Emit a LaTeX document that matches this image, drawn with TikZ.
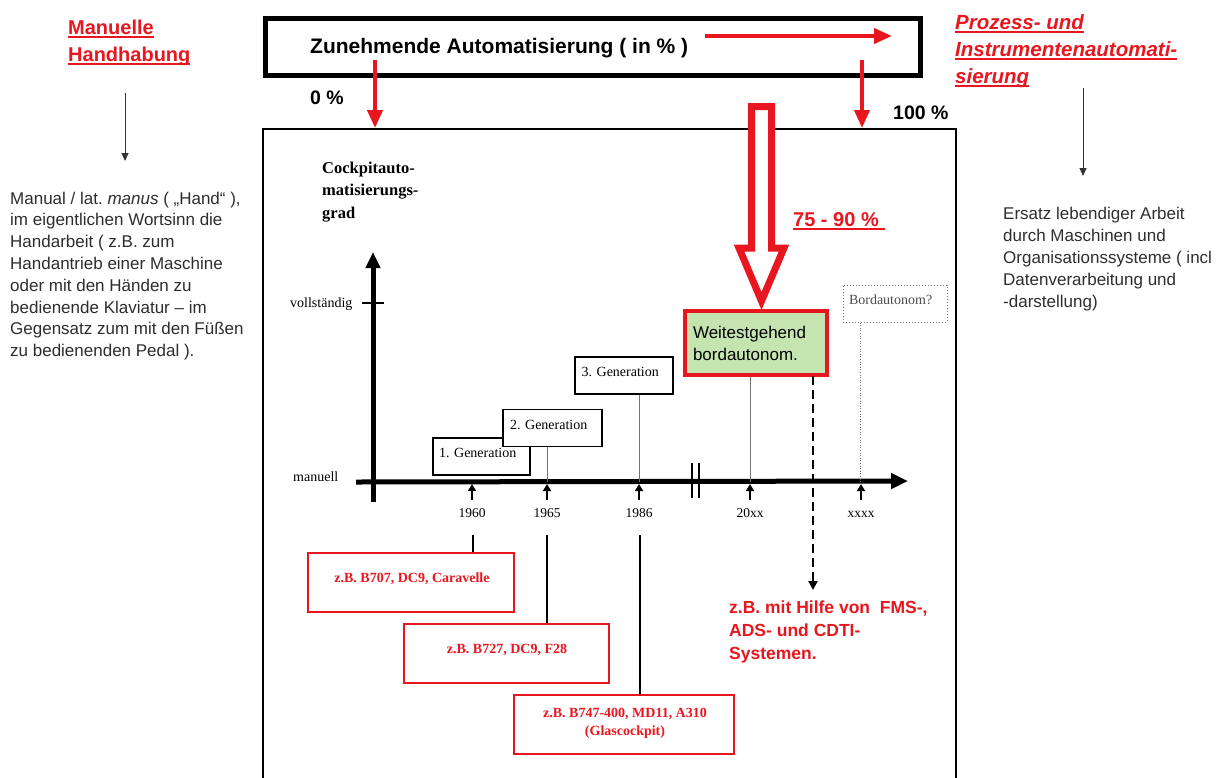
\documentclass[tikz,border=0pt]{standalone}
\usepackage{fontspec}
\setmainfont{Liberation Serif}
\setsansfont{Liberation Sans}
\usetikzlibrary{arrows.meta}
\definecolor{myred}{RGB}{232,22,30}
\definecolor{mygreen}{RGB}{196,228,176}
\definecolor{txtgray}{RGB}{45,45,45}
\newcommand\fsz[2]{\fontsize{#1}{#2}\selectfont}
\newsavebox\myulbox
\newcommand\myul[1]{\sbox\myulbox{#1}\leavevmode\rlap{\rule[-3.5pt]{\wd\myulbox}{1.6pt}}\usebox\myulbox}
\frenchspacing
\begin{document}
\frenchspacing
\begin{tikzpicture}[x=1pt,y=-1pt,
  every node/.append style={execute at begin node=\frenchspacing},
  redarrow/.style={myred, line width=4pt, -{Triangle[length=18pt,width=15pt]}},
  thinarrow/.style={black!80, line width=1pt, -{Triangle[length=8pt,width=7pt]}},
  para/.style={anchor=base west, align=left, inner sep=0pt, text=txtgray, font=\sffamily\fsz{17}{21.8}},
  redtitle/.style={anchor=base west, align=left, inner sep=0pt, text=myred},
  genbox/.style={draw=black, line width=1.6pt, fill=white, minimum height=37pt, text width=85pt, inner xsep=6pt, align=left, text height=10pt, text depth=8pt, font=\fsz{14}{16}},
  redbox/.style={draw=myred, line width=1.5pt, minimum height=59pt, inner sep=0pt},
  redboxtext/.style={anchor=base, align=center, inner sep=0pt, text=myred, font=\bfseries\fsz{14}{18}},
  yearlbl/.style={anchor=base, inner sep=0pt, font=\fsz{13.5}{16}},
  yeararrow/.style={black, line width=2pt, -{Triangle[length=7pt,width=8pt]}},
  vline/.style={black!55, line width=0.6pt},
  drop/.style={black, line width=2.5pt},
  axis/.style={black, line width=5pt}
]
\useasboundingbox (0,0) rectangle (1217,777);

% ---------- left column ----------
\node[redtitle, font=\sffamily\bfseries\fsz{20}{27}] (manuelle) at (68,61) {\myul{Manuelle}\\\myul{Handhabung}};
\coordinate (la0) at (125,93);
\coordinate (la1) at (125,161);
\draw[thinarrow] (la0) -- (la1);
\node[para] (manualtext) at (10,356.6) {Manual / lat. \textit{manus} ( „Hand“ ),\\im eigentlichen Wortsinn die\\Handarbeit ( z.B. zum\\Handantrieb einer Maschine\\oder mit den Händen zu\\bedienende Klaviatur – im\\Gegensatz zum mit den Füßen\\zu bedienenden Pedal ).};

% ---------- right column ----------
\node[redtitle, font=\sffamily\bfseries\itshape\fsz{20.5}{27}] (prozess) at (955,83) {\myul{Prozess- und}\\\myul{Instrumentenautomati-}\\\myul{sierung}};
\coordinate (ra0) at (1083,88);
\coordinate (ra1) at (1083,176);
\draw[thinarrow] (ra0) -- (ra1);
\node[para] (ersatz) at (1003,307) {Ersatz lebendiger Arbeit\\durch Maschinen und\\Organisationssysteme ( incl\\Datenverarbeitung und\\-darstellung)};

% ---------- top box ----------
\node[draw=black, line width=5pt, minimum width=655pt, minimum height=57pt, inner sep=0pt] (autobox) at (592.5,46.5) {};
\node[anchor=base west, inner sep=0pt, font=\sffamily\bfseries\fsz{21}{24}] (autotext) at (310,53) {Zunehmende Automatisierung ( in \% )};
\coordinate (ha0) at (705,36);
\coordinate (ha1) at (892,36);
\draw[redarrow] (ha0) -- (ha1);
\node[anchor=base west, inner sep=0pt, font=\sffamily\bfseries\fsz{19.5}{22}] (p0) at (310,104) {0 \%};
\node[anchor=base west, inner sep=0pt, font=\sffamily\bfseries\fsz{19.5}{22}] (p100) at (893,119) {100 \%};

% ---------- main frame ----------
\node[draw=black, line width=2pt, minimum width=693pt, minimum height=700pt, anchor=north west, inner sep=0pt] (frame) at (262,128) {};

\coordinate (d0s) at (375,60);
\coordinate (d1s) at (862,60);
\draw[redarrow] (d0s) -- (d0s |- frame.north) ;
\draw[redarrow] (d1s) -- (d1s |- frame.north);

% hollow red arrow
\draw[myred, line width=7pt, fill=white, line join=miter]
  (751.5,106.5) -- (771.5,106.5) -- (771.5,248) -- (784,248) -- (761.5,301) -- (739,248) -- (751.5,248) -- cycle;

\node[anchor=base west, inner sep=0pt, text=myred, font=\sffamily\bfseries\fsz{20}{24}] (pct) at (793,226) {\myul{75 - 90 \%\,\,}};

% ---------- axes ----------
\node[anchor=base west, inner sep=0pt, font=\bfseries\fsz{16.5}{22.5}, align=left] (cockpit) at (322,218) {Cockpitauto-\\matisierungs-\\grad};
\coordinate (yax0) at (373,502);
\coordinate (yax1) at (373,252);
\draw[axis, -{Triangle[length=16pt,width=14pt]}] (yax0) -- (yax1);
\coordinate (tk0) at (362,303);
\coordinate (tk1) at (384,303);
\draw[black, line width=1.5pt] (tk0) -- (tk1);
\node[anchor=base west, inner sep=0pt, font=\fsz{14}{16}] (voll) at (290,307) {vollständig};
\node[anchor=base west, inner sep=0pt, font=\fsz{14}{16}] (manuell) at (293,481) {manuell};

\coordinate (xax0) at (356,482);
\coordinate (xax1) at (908,481);
\draw[axis, -{Triangle[length=17pt,width=15pt]}] (xax0) -- (xax1);
\coordinate (br0t) at (692,463);
\coordinate (br0b) at (692,498);
\coordinate (br1t) at (699,463);
\coordinate (br1b) at (699,498);
\draw[black, line width=2.5pt] (br0t) -- (br0b);
\draw[black, line width=2.5pt] (br1t) -- (br1b);

% year ticks
\foreach \nm/\xx/\lbl in {a/472/1960, b/547/1965, c/639/1986, d/750/20xx, e/861/xxxx}{
  \coordinate (ya\nm) at (\xx,500);
  \coordinate (yb\nm) at (\xx,484);
  \draw[yeararrow] (ya\nm) -- (yb\nm);
  \node[yearlbl] (yl\nm) at (\xx,517) {\lbl};
}

% generation boxes
\node[genbox, minimum width=97pt] (gen1) at (481.5,456.5) {1. Generation};
\node[genbox, minimum width=99pt] (gen2) at (552.5,428) {2. Generation};
\node[genbox, minimum width=98pt] (gen3) at (624,375.5) {3. Generation};
\coordinate (axb) at (547,482);
\coordinate (axc) at (639,482);
\coordinate (axd) at (750,482);
\coordinate (axe) at (860,482);
\draw[vline] (gen2.south -| axb) -- (axb);
\draw[vline] (gen3.south -| axc) -- (axc);

% green box and Bordautonom
\node[draw=myred, line width=4.5pt, fill=mygreen, minimum width=142pt, minimum height=64pt, text width=126pt, inner xsep=8pt, align=left, font=\sffamily\fsz{17}{22}] (green) at (756,343) {Weitestgehend\\bordautonom.};
\node[draw=black!55, dotted, line width=1pt, minimum width=104pt, minimum height=37pt, text width=92pt, inner xsep=6pt, align=left, text=black!70, text height=10pt, text depth=8pt, font=\fsz{14}{16}] (bord) at (895,303.5) {Bordautonom?};
\draw[vline] (green.south -| axd) -- (axd);
\draw[vline, dotted] (bord.south -| axe) -- (axe);

% red example boxes
\node[redbox, minimum width=206pt] (boxA) at (411,582.5) {};
\node[redboxtext] (txtA) at (412,582) {z.B. B707, DC9, Caravelle};
\node[redbox, minimum width=205pt] (boxB) at (506.5,653.5) {};
\node[redboxtext] (txtB) at (507,653) {z.B. B727, DC9, F28};
\node[redbox, minimum width=220pt] (boxC) at (624,724.5) {};
\node[redboxtext] (txtC) at (625,735) {z.B. B747-400, MD11, A310\\(Glascockpit)};

\coordinate (da) at (473,535);
\coordinate (db) at (547,535);
\coordinate (dc) at (640,535);
\draw[drop] (da) -- (da |- boxA.north);
\draw[drop] (db) -- (db |- boxB.north);
\draw[drop] (dc) -- (dc |- boxC.north);

% dashed arrow to FMS text
\node[anchor=base west, inner sep=0pt, align=left, text=myred, font=\sffamily\bfseries\fsz{17.5}{23}] (fms) at (729,659) {z.B. mit Hilfe von \ FMS-,\\ADS- und CDTI-\\Systemen.};
\coordinate (dsh0) at (813,376);
\coordinate (dsh1) at (813,590);
\draw[black, line width=2.5pt, dash pattern=on 9pt off 5pt, -{Triangle[length=9pt,width=9pt]}] (dsh0) -- (dsh1);
\end{tikzpicture}
\end{document}
